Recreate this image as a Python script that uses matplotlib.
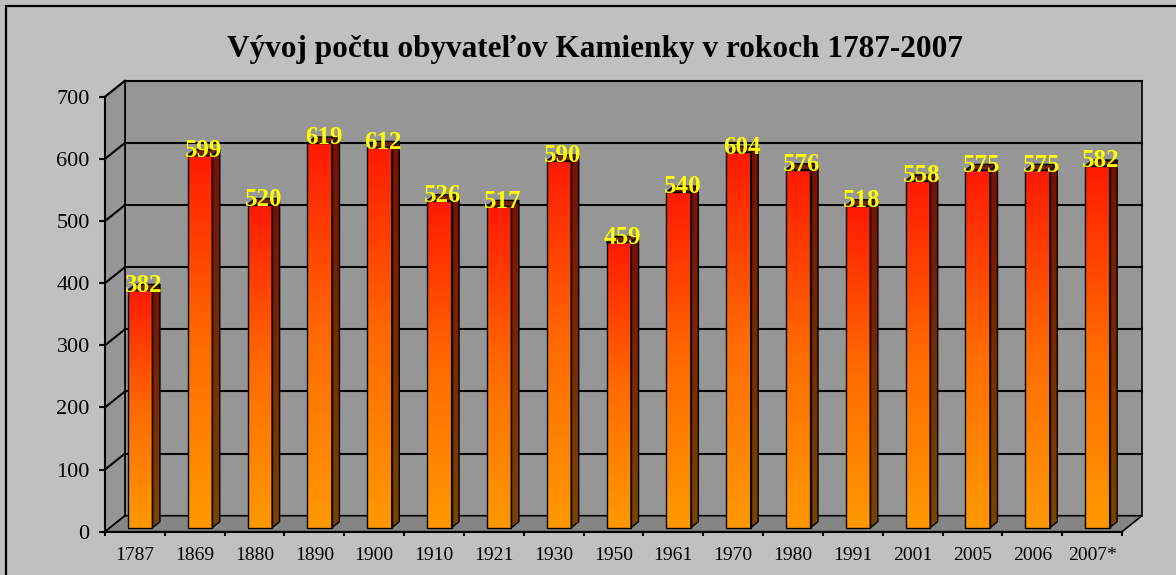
import numpy as np
import matplotlib
matplotlib.use("Agg")
import matplotlib.pyplot as plt
from matplotlib.colors import LinearSegmentedColormap
from matplotlib.patches import Polygon, Rectangle

# Data
years = ["1787", "1869", "1880", "1890", "1900", "1910", "1921", "1930", "1950",
         "1961", "1970", "1980", "1991", "2001", "2005", "2006", "2007*"]
values = [382, 599, 520, 619, 612, 526, 517, 590, 459, 540, 604, 576, 518, 558,
          575, 575, 582]
title = "Vývoj počtu obyvateľov Kamienky v rokoch 1787-2007"

SERIF = "Liberation Serif"
W, H = 1176, 575

# 3D look: depth offset of the back walls, in data units
DX, DY = 0.334, 25.7
BAR_F0 = 0.25      # bar front at this fraction of the depth
BAR_DEPTH = 0.375  # bar depth as a fraction of the depth
BAR_LEFT, BAR_W = 0.30, 0.41

front_cmap = LinearSegmentedColormap.from_list("front", ["#ff9900", "#ff6a00", "#ff1a00"])
side_cmap = LinearSegmentedColormap.from_list("side", ["#7a4400", "#7a2a00", "#7a1000"])

fig = plt.figure(figsize=(W / 100, H / 100), dpi=100)
fig.patch.set_facecolor("#c0c0c0")
fig.patches.append(Rectangle((6 / W, -0.1), 1.2, 1.1 - 6 / H, transform=fig.transFigure,
                             fill=False, edgecolor="black", linewidth=1.6))

ax = fig.add_axes([105 / W, (H - 531.7) / H, 1017 / W, (531.7 - 96.7) / H])
ax.set_facecolor("none")
n = len(values)
ymax = 700

# walls and floor
back = Polygon([(DX, DY), (n + DX, DY), (n + DX, ymax + DY), (DX, ymax + DY)],
               closed=True, facecolor="#969696", edgecolor="black", lw=1.2,
               clip_on=False, zorder=0)
side = Polygon([(0, 0), (DX, DY), (DX, ymax + DY), (0, ymax)], closed=True,
               facecolor="#969696", edgecolor="black", lw=1.2, clip_on=False, zorder=0)
floor = Polygon([(0, 0), (n, 0), (n + DX, DY), (DX, DY)], closed=True,
                facecolor="#858585", edgecolor="black", lw=1.2, clip_on=False, zorder=0)
for p in (back, side, floor):
    ax.add_patch(p)

yticks = np.arange(0, ymax + 1, 100)
for v in yticks[1:]:
    ax.plot([DX, n + DX], [v + DY, v + DY], color="black", lw=1.5, clip_on=False, zorder=1)
    ax.plot([0, DX], [v, v + DY], color="black", lw=1.5, clip_on=False, zorder=1)

# bars
bdx, bdy = BAR_DEPTH * DX, BAR_DEPTH * DY
grad = np.linspace(0, 1, 256).reshape(-1, 1)
for i, v in enumerate(values):
    x0 = i + BAR_LEFT + BAR_F0 * DX
    x1 = x0 + BAR_W
    y0 = BAR_F0 * DY
    y1 = y0 + v
    ax.imshow(grad, extent=[x0, x1, y0, y1], origin="lower", cmap=front_cmap,
              aspect="auto", clip_on=False, zorder=3, interpolation="bilinear")
    ax.add_patch(Rectangle((x0, y0), BAR_W, v, fill=False, edgecolor="black",
                           lw=1.0, clip_on=False, zorder=4))
    side_poly = Polygon([(x1, y0), (x1 + bdx, y0 + bdy), (x1 + bdx, y1 + bdy), (x1, y1)],
                        closed=True, facecolor="none", edgecolor="black", lw=1.0,
                        clip_on=False, zorder=4)
    ax.add_patch(side_poly)
    im = ax.imshow(grad, extent=[x1, x1 + bdx, y0, y1 + bdy], origin="lower",
                   cmap=side_cmap, aspect="auto", zorder=3, interpolation="bilinear")
    im.set_clip_path(side_poly)
    im.set_clip_box(None)
    top = Polygon([(x0, y1), (x1, y1), (x1 + bdx, y1 + bdy), (x0 + bdx, y1 + bdy)],
                  closed=True, facecolor="#6a2200", edgecolor="black", lw=1.0,
                  clip_on=False, zorder=4)
    ax.add_patch(top)
    ax.text((x0 + x1) / 2 + bdx / 2, y1 - 2, str(v), ha="center", va="baseline",
            color="#ffff00", fontsize=18, fontweight="bold", family=SERIF,
            zorder=6, clip_on=False)

ax.set_xlim(0, n)
ax.set_ylim(0, ymax)

for s in ("top", "right"):
    ax.spines[s].set_visible(False)
for s in ("left", "bottom"):
    ax.spines[s].set_linewidth(1.5)
    ax.spines[s].set_zorder(5)

ax.set_yticks(yticks)
ax.set_yticklabels([str(t) for t in yticks], family=SERIF, fontsize=16)
ax.tick_params(axis="y", direction="out", length=4, width=1.5, pad=7)

ax.set_xticks(np.arange(0, n + 1))
ax.set_xticklabels([])
ax.set_xticks(np.arange(n) + 0.5, minor=True)
ax.set_xticklabels(years, minor=True, family=SERIF, fontsize=14)
ax.tick_params(axis="x", which="major", direction="out", length=3, width=1.5)
ax.tick_params(axis="x", which="minor", length=0, pad=11)

fig.text(0.506, 1 - 49 / H, title, ha="center", va="center", fontsize=22.5,
         fontweight="bold", family=SERIF)

fig.savefig("out.png", dpi=100, facecolor=fig.get_facecolor())
